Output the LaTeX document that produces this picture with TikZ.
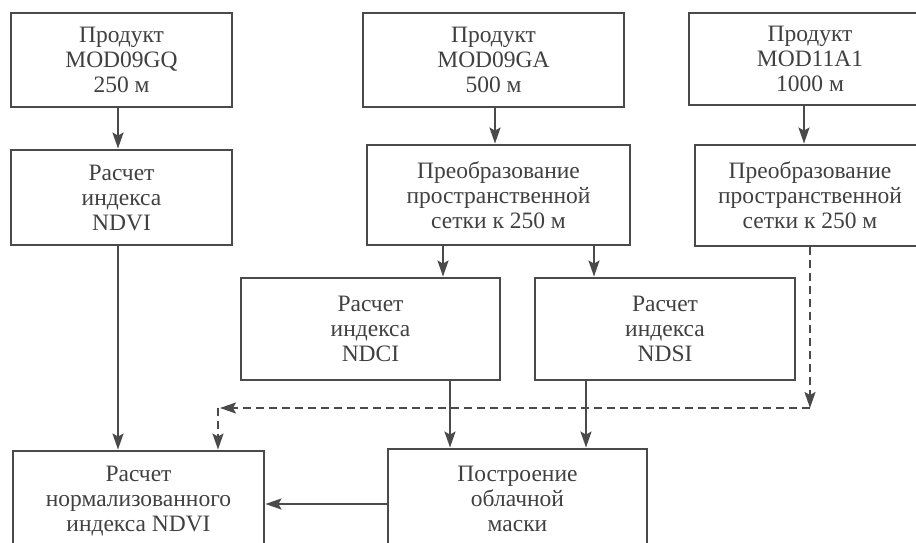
\documentclass[tikz,border=0pt]{standalone}
\usepackage{fontspec}
\setmainfont{Liberation Serif}
\usetikzlibrary{arrows.meta}
\definecolor{ln}{HTML}{4a4a4a}
\definecolor{tx}{HTML}{404040}
\begin{document}
\begin{tikzpicture}[x=1pt,y=-1pt,
  box/.style={draw=ln, line width=2.9pt, text=tx, align=center, inner sep=0pt,
    font=\fontsize{23.5}{25}\selectfont},
  arr/.style={draw=ln, line width=2pt, -{Stealth[length=16pt,width=11pt,inset=3pt]}},
  darr/.style={arr, dash pattern=on 8pt off 5pt}]
\clip (0,0) rectangle (916,543);
\useasboundingbox (0,0) rectangle (916,543);
% top row
\node[box, minimum width=221pt, minimum height=94pt] (A) at (121.5,60) {Продукт\\MOD09GQ\\250 м};
\node[box, minimum width=261pt, minimum height=94pt] (C) at (493.5,60) {Продукт\\MOD09GA\\500 м};
\node[box, minimum width=242pt, minimum height=92pt] (E) at (810,59) {Продукт\\MOD11A1\\1000 м};
% second row
\node[box, minimum width=221pt, minimum height=95pt] (B) at (121.5,197.5) {Расчет\\индекса\\NDVI};
\node[box, minimum width=263pt, minimum height=100pt] (D) at (498.5,195) {Преобразование\\пространственной\\сетки к 250 м};
\node[box, minimum width=230pt, minimum height=101pt] (F) at (810,195.5) {Преобразование\\пространственной\\сетки к 250 м};
% third row
\node[box, minimum width=259pt, minimum height=102pt] (G) at (370.5,329) {Расчет\\индекса\\NDCI};
\node[box, minimum width=260pt, minimum height=102pt] (H) at (665,329) {Расчет\\индекса\\NDSI};
% bottom row
\node[box, minimum width=251pt, minimum height=100pt] (I) at (138.5,501) {Расчет\\нормализованного\\индекса NDVI};
\node[box, minimum width=259pt, minimum height=100pt] (J) at (517.5,499) {Построение\\облачной\\маски};
% connectors
\draw[arr] ([xshift=-3.5pt]A.south) -- ([xshift=-3.5pt]B.north);
\draw[arr] ([xshift=1.5pt]C.south) -- ([xshift=-3.5pt]D.north);
\draw[arr] ([xshift=-6pt]E.south) -- ([xshift=-6pt]F.north);
\draw[arr] ([xshift=-55.5pt]D.south) -- ([xshift=72.5pt]G.north);
\draw[arr] ([xshift=95.5pt]D.south) -- ([xshift=-71pt]H.north);
\draw[arr] ([xshift=-3.5pt]B.south) -- ([xshift=-20.5pt]I.north);
\draw[arr] ([xshift=79.5pt]G.south) -- ([xshift=-67.5pt]J.north);
\draw[arr] ([xshift=-79pt]H.south) -- ([xshift=68.5pt]J.north);
\draw[arr] (J.west |- 0,504) -- (I.east |- 0,504);
% dashed path
\coordinate (c1) at (810,408);
\coordinate (c2) at (220,408);
\coordinate (c3) at (218,408);
\draw[darr] (F.south) -- (c1);
\draw[darr] (c1) -- (c2);
\draw[darr] (c3) -- (c3 |- I.north);
\end{tikzpicture}
\end{document}
